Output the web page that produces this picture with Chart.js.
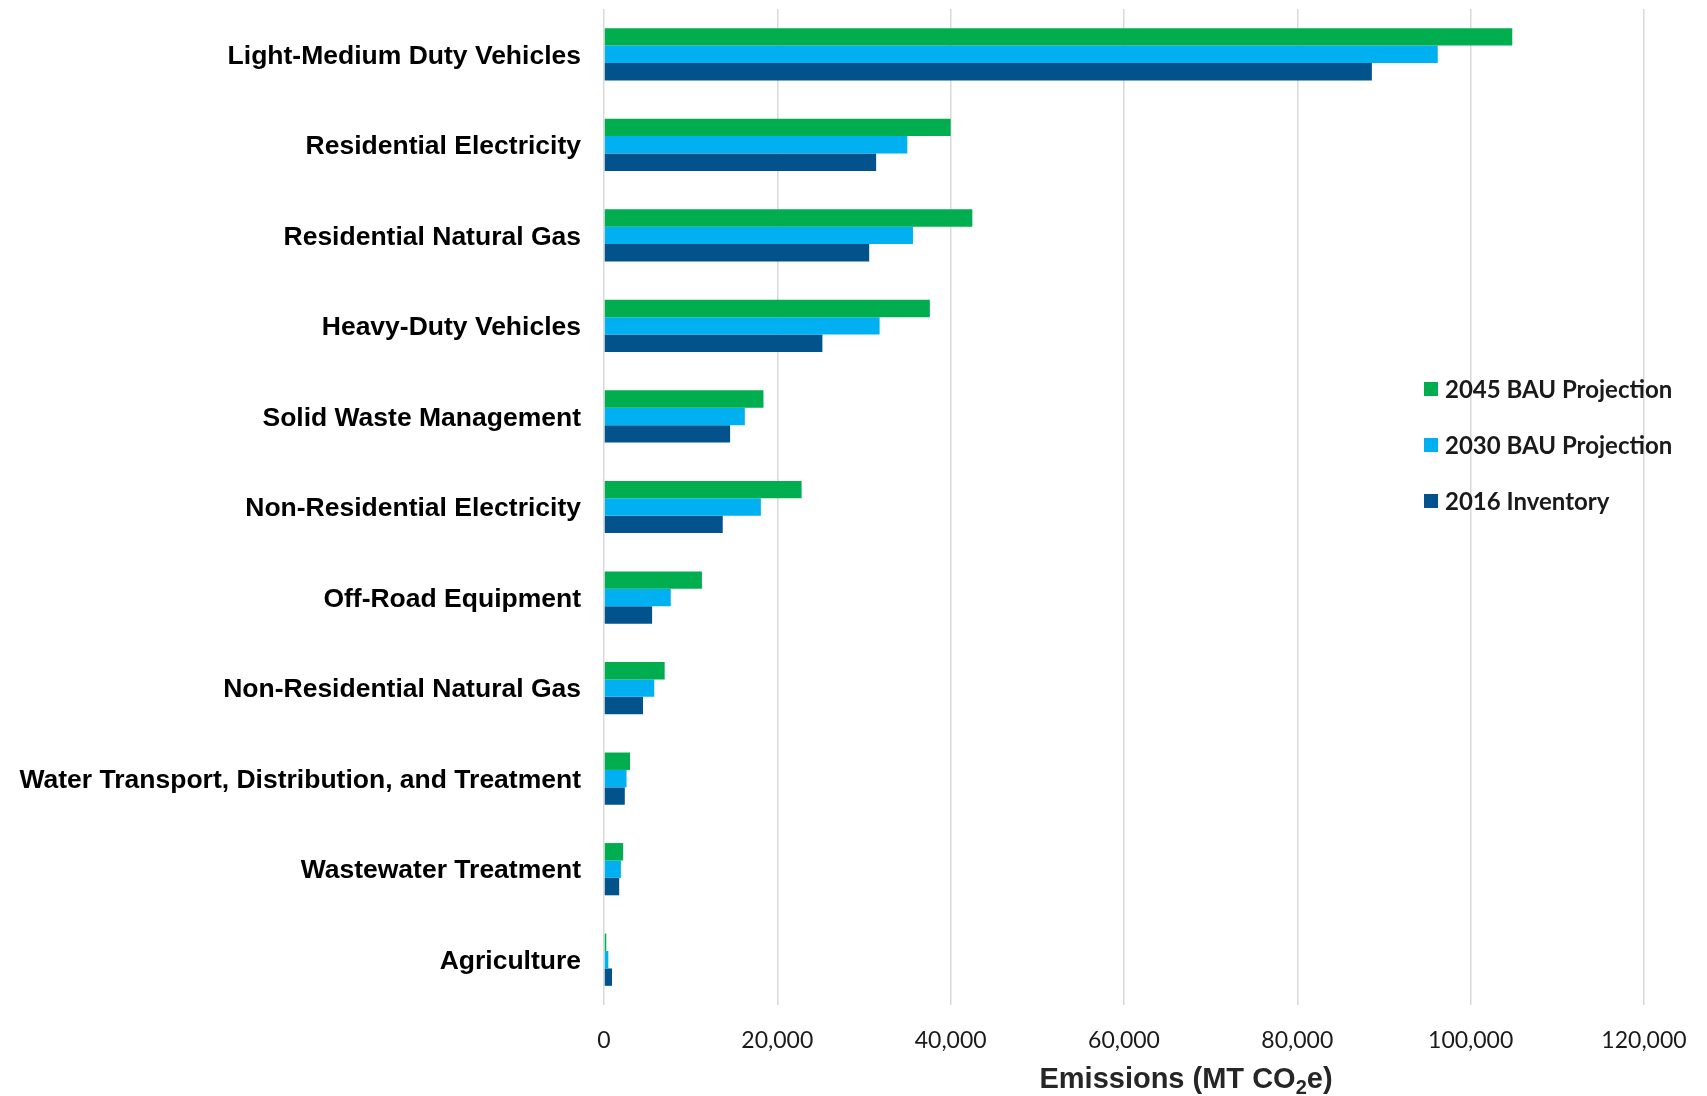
<!DOCTYPE html>
<html>
<head>
<meta charset="utf-8">
<script src="https://cdn.jsdelivr.net/npm/chart.js@4.4.1/dist/chart.umd.min.js"></script>
<style>
  html, body { margin: 0; padding: 0; background: #fff; }
  canvas { display: block; }
</style>
</head>
<body>
<canvas id="chartEmisiones" width="1707" height="1096"></canvas>
<script>
'use strict';

// Sectores (de arriba hacia abajo)
var categorias = [
    'Light-Medium Duty Vehicles',
    'Residential Electricity',
    'Residential Natural Gas',
    'Heavy-Duty Vehicles',
    'Solid Waste Management',
    'Non-Residential Electricity',
    'Off-Road Equipment',
    'Non-Residential Natural Gas',
    'Water Transport, Distribution, and Treatment',
    'Wastewater Treatment',
    'Agriculture'
];

// MT CO2e
var proyeccion2045 = [104800, 40000, 42500, 37600, 18400, 22800, 11300, 7000, 3000, 2200, 260];
var proyeccion2030 = [96200, 35000, 35650, 31800, 16250, 18100, 7700, 5800, 2600, 1950, 500];
var inventario2016 = [88600, 31400, 30600, 25200, 14550, 13700, 5550, 4500, 2400, 1750, 920];

var series = ['2045 BAU Projection', '2030 BAU Projection', '2016 Inventory'];
var ejeMin = 0, ejeMax = 120000, ejePaso = 20000;

var verde = '#00ae4f', celeste = '#00b0f0', azul = '#02538b';

// leyenda dibujada encima del area de la grafica
var leyendaPlugin = {
    id: 'leyendaDentro',
    afterDraw: function (chart) {
        var ctx = chart.ctx;
        var x = 1424, y = 389, paso = 56;
        ctx.save();
        ctx.font = 'bold 24px Lato';
        ctx.textBaseline = 'middle';
        ctx.textAlign = 'left';
        chart.data.datasets.forEach(function (ds, i) {
            var yy = y + i * paso;
            ctx.fillStyle = ds.backgroundColor;
            ctx.fillRect(x, yy - 7, 14, 14);
            ctx.fillStyle = '#1a1a1a';
            ctx.fillText(ds.label, x + 21, yy + 1);
        });
        ctx.restore();
    }
};

// titulo del eje x con subindice
var tituloPlugin = {
    id: 'tituloEje',
    afterDraw: function (chart) {
        var ctx = chart.ctx;
        var partes = ['Emissions (MT CO', '2', 'e)'];
        var base = 'bold 29px "Liberation Sans", Arial';
        var sub = 'bold 20px "Liberation Sans", Arial';
        ctx.save();
        ctx.font = base;
        var w0 = ctx.measureText(partes[0]).width;
        var w2 = ctx.measureText(partes[2]).width;
        ctx.font = sub;
        var w1 = ctx.measureText(partes[1]).width;
        var total = w0 + w1 + w2;
        var x = 1186 - total / 2, y = 1088;
        ctx.fillStyle = '#262626';
        ctx.textBaseline = 'alphabetic';
        ctx.textAlign = 'left';
        ctx.font = base;
        ctx.fillText(partes[0], x, y);
        ctx.font = sub;
        ctx.fillText(partes[1], x + w0, y + 6);
        ctx.font = base;
        ctx.fillText(partes[2], x + w0 + w1, y);
        ctx.restore();
    }
};

var CHART = document.getElementById('chartEmisiones');

var chartEmisiones = new Chart(CHART, {
    type: 'bar',
    data: {
        labels: categorias,
        datasets: [{
            label: series[0],
            data: proyeccion2045,
            backgroundColor: verde
        }, {
            label: series[1],
            data: proyeccion2030,
            backgroundColor: celeste
        }, {
            label: series[2],
            data: inventario2016,
            backgroundColor: azul
        }]
    },
    options: {
        indexAxis: 'y',
        responsive: false,
        animation: false,
        devicePixelRatio: 1,
        barPercentage: 1,
        categoryPercentage: 0.577,
        layout: { padding: { top: 9, right: 63, left: 0, bottom: 0 } },
        plugins: {
            legend: { display: false },
            tooltip: { enabled: false }
        },
        scales: {
            x: {
                min: ejeMin,
                max: ejeMax,
                ticks: {
                    stepSize: ejePaso,
                    padding: 22,
                    color: '#1a1a1a',
                    font: { family: 'Lato', size: 23 },
                    callback: function (v) { return v.toLocaleString('en-US'); }
                },
                grid: { color: '#d9d9d9', lineWidth: 1.5, drawTicks: false },
                border: { display: false },
                afterFit: function (scale) {
                    scale.height = 91;
                    scale.paddingLeft = 0;
                    scale.paddingRight = 0;
                }
            },
            y: {
                ticks: {
                    padding: 23,
                    labelOffset: 2,
                    color: '#000',
                    font: { family: '"Liberation Sans", Arial', size: 26.5, weight: 'bold' }
                },
                grid: { display: false, drawTicks: false },
                border: { display: false },
                afterFit: function (scale) {
                    scale.width = 604;
                    scale.paddingTop = 0;
                    scale.paddingBottom = 0;
                }
            }
        }
    },
    plugins: [leyendaPlugin, tituloPlugin]
});
</script>
</body>
</html>
